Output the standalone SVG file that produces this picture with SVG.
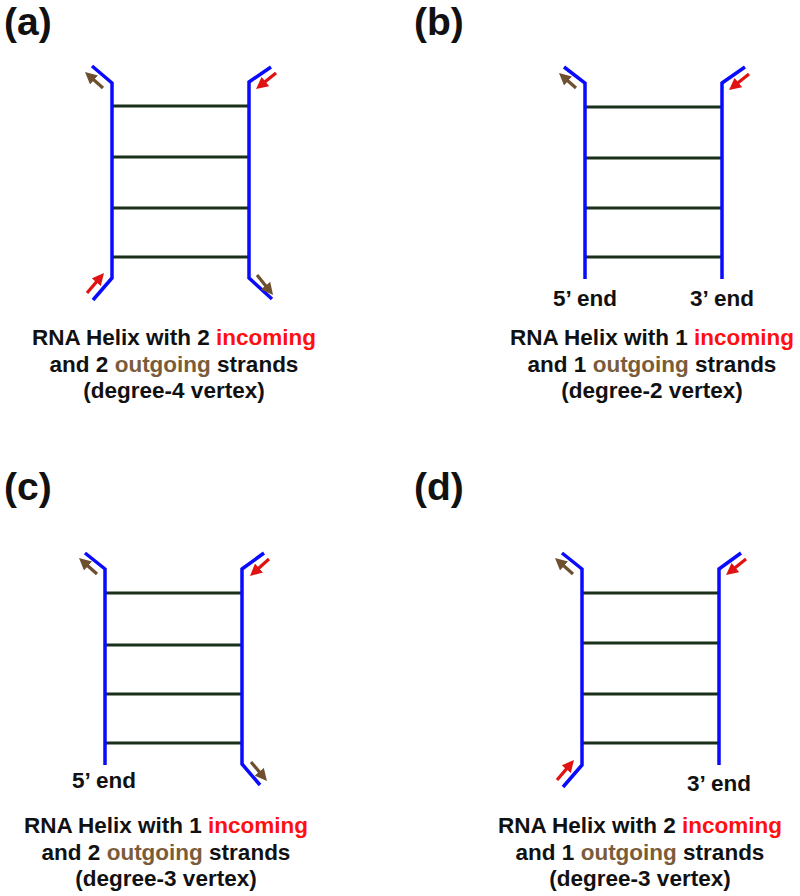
<svg xmlns="http://www.w3.org/2000/svg" width="800" height="896" viewBox="0 0 800 896">
<style>
  .bg{fill:#ffffff}
  .strand{fill:none;stroke:#0a0aff;stroke-width:3.5;stroke-linejoin:miter}
  .rung{stroke:#1b301b;stroke-width:3.2}
  .arr-in{stroke:#e01212;stroke-width:3.2}
  .arr-out{stroke:#6e5030;stroke-width:3.2}
  .plabel{font-family:"Liberation Sans",Arial,sans-serif;font-weight:bold;font-size:39px;fill:#111}
  .cap{font-family:"Liberation Sans",Arial,sans-serif;font-weight:bold;font-size:22.5px;fill:#111;text-anchor:middle}
  .end{font-family:"Liberation Sans",Arial,sans-serif;font-weight:bold;font-size:22.5px;fill:#111;text-anchor:middle}
  .in{fill:#ff1010}
  .out{fill:#7b5c3a}
</style>
<defs>
  <marker id="headIn" viewBox="0 0 10 10" markerWidth="12" markerHeight="12" markerUnits="userSpaceOnUse" refX="5" refY="5" orient="auto">
    <path d="M0,0 L10,5 L0,10 z" fill="#e01212"/>
  </marker>
  <marker id="headOut" viewBox="0 0 10 10" markerWidth="12" markerHeight="12" markerUnits="userSpaceOnUse" refX="5" refY="5" orient="auto">
    <path d="M0,0 L10,5 L0,10 z" fill="#6e5030"/>
  </marker>
</defs>
<rect class="bg" x="0" y="0" width="800" height="896"/>

<!-- Panel (a) -->
<g id="panel-a">
  <text class="plabel" x="4" y="35">(a)</text>
  <g id="a-rungs">
    <line class="rung" x1="112" y1="106" x2="249" y2="106"/>
    <line class="rung" x1="112" y1="157" x2="249" y2="157"/>
    <line class="rung" x1="112" y1="208" x2="249" y2="208"/>
    <line class="rung" x1="112" y1="257" x2="249" y2="257"/>
  </g>
  <g id="a-strands">
    <polyline class="strand" points="92,66 112,83 112,278 93,300"/>
    <polyline class="strand" points="271,67 249,82 249,278 272,299"/>
  </g>
  <text class="cap" x="174" y="345">RNA Helix with 2 <tspan class="in">incoming</tspan></text>
  <text class="cap" x="174" y="371.5">and 2 <tspan class="out">outgoing</tspan> strands</text>
  <text class="cap" x="174" y="398">(degree-4 vertex)</text>
</g>

<!-- Panel (b) -->
<g id="panel-b">
  <text class="plabel" x="414" y="35">(b)</text>
  <g id="b-rungs">
    <line class="rung" x1="585" y1="107" x2="722" y2="107"/>
    <line class="rung" x1="585" y1="158" x2="722" y2="158"/>
    <line class="rung" x1="585" y1="208" x2="722" y2="208"/>
    <line class="rung" x1="585" y1="257" x2="722" y2="257"/>
  </g>
  <g id="b-strands">
    <polyline class="strand" points="564,67 585,83 585,279"/>
    <polyline class="strand" points="745,67 722,83 722,279"/>
  </g>
  <text class="end" x="585" y="306">5’ end</text>
  <text class="end" x="722" y="306">3’ end</text>
  <text class="cap" x="652" y="345">RNA Helix with 1 <tspan class="in">incoming</tspan></text>
  <text class="cap" x="652" y="371.5">and 1 <tspan class="out">outgoing</tspan> strands</text>
  <text class="cap" x="652" y="398">(degree-2 vertex)</text>
</g>

<!-- Panel (c) -->
<g id="panel-c">
  <text class="plabel" x="4" y="500">(c)</text>
  <g id="c-rungs">
    <line class="rung" x1="105" y1="593" x2="242" y2="593"/>
    <line class="rung" x1="105" y1="645" x2="242" y2="645"/>
    <line class="rung" x1="105" y1="694" x2="242" y2="694"/>
    <line class="rung" x1="105" y1="743" x2="242" y2="743"/>
  </g>
  <g id="c-strands">
    <polyline class="strand" points="85,553 105,569 105,765"/>
    <polyline class="strand" points="264,553 242,569 242,764 260,785"/>
  </g>
  <text class="end" x="104" y="788">5’ end</text>
  <text class="cap" x="166" y="833">RNA Helix with 1 <tspan class="in">incoming</tspan></text>
  <text class="cap" x="166" y="859.5">and 2 <tspan class="out">outgoing</tspan> strands</text>
  <text class="cap" x="166" y="886">(degree-3 vertex)</text>
</g>

<!-- Panel (d) -->
<g id="panel-d">
  <text class="plabel" x="414" y="500">(d)</text>
  <g id="d-rungs">
    <line class="rung" x1="582" y1="593" x2="719" y2="593"/>
    <line class="rung" x1="582" y1="643" x2="719" y2="643"/>
    <line class="rung" x1="582" y1="694" x2="719" y2="694"/>
    <line class="rung" x1="582" y1="743" x2="719" y2="743"/>
  </g>
  <g id="d-strands">
    <polyline class="strand" points="562,553 582,569 582,765 563,787"/>
    <polyline class="strand" points="741,553 719,569 719,765"/>
  </g>
  <text class="end" x="719" y="791">3’ end</text>
  <text class="cap" x="640" y="833">RNA Helix with 2 <tspan class="in">incoming</tspan></text>
  <text class="cap" x="640" y="859.5">and 1 <tspan class="out">outgoing</tspan> strands</text>
  <text class="cap" x="640" y="886">(degree-3 vertex)</text>
</g>

<!-- Connectors: strand direction arrows -->
<g id="connectors">
  <line class="arr-out" x1="103" y1="88" x2="89.5" y2="76" marker-end="url(#headOut)"/>
  <line class="arr-in" x1="276" y1="73" x2="260.7" y2="85.3" marker-end="url(#headIn)"/>
  <line class="arr-in" x1="87" y1="293" x2="100.1" y2="277.6" marker-end="url(#headIn)"/>
  <line class="arr-out" x1="257" y1="275" x2="269.3" y2="290.3" marker-end="url(#headOut)"/>

  <line class="arr-out" x1="576" y1="88" x2="563.5" y2="77" marker-end="url(#headOut)"/>
  <line class="arr-in" x1="749" y1="74" x2="733.7" y2="86.3" marker-end="url(#headIn)"/>

  <line class="arr-out" x1="97" y1="574" x2="83.5" y2="562" marker-end="url(#headOut)"/>
  <line class="arr-in" x1="269" y1="559" x2="254.5" y2="572" marker-end="url(#headIn)"/>
  <line class="arr-out" x1="251" y1="762" x2="263.1" y2="776.4" marker-end="url(#headOut)"/>

  <line class="arr-out" x1="573" y1="574" x2="559.5" y2="562" marker-end="url(#headOut)"/>
  <line class="arr-in" x1="746" y1="559" x2="730.7" y2="571.3" marker-end="url(#headIn)"/>
  <line class="arr-in" x1="557" y1="780" x2="570.1" y2="764.6" marker-end="url(#headIn)"/>
</g>
</svg>
